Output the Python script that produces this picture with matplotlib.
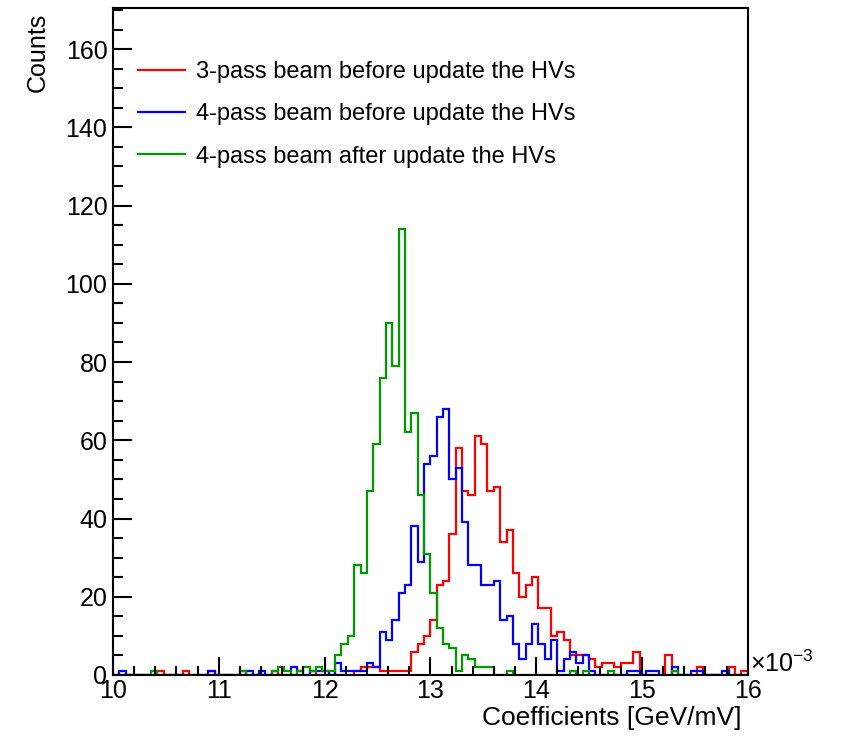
import numpy as np
import matplotlib
matplotlib.use("Agg")
import matplotlib.pyplot as plt
from matplotlib.lines import Line2D
from matplotlib.ticker import MultipleLocator

plt.rcParams["font.family"] = ["Liberation Sans", "DejaVu Sans"]
plt.rcParams["mathtext.fontset"] = "custom"
plt.rcParams["mathtext.rm"] = "Liberation Sans"

# Histogram binning: 100 bins between 0.010 and 0.016 GeV/mV
x_low, x_high, n_bins = 0.010, 0.016, 100

# Bin contents (counts per bin)
counts_3pass_before = [
    0, 0, 0, 0, 0, 0, 0, 1, 0, 0,
    0, 1, 0, 0, 0, 1, 0, 0, 0, 0,
    1, 0, 0, 0, 0, 1, 0, 0, 0, 0,
    0, 1, 0, 0, 0, 0, 0, 0, 1, 2,
    2, 2, 1, 1, 1, 1, 1, 6, 8, 10,
    14, 23, 24, 36, 58, 47, 46, 61, 59, 47,
    48, 34, 37, 26, 20, 23, 25, 17, 17, 10,
    11, 9, 5, 5, 5, 4, 2, 3, 3, 2,
    3, 3, 6, 0, 0, 0, 0, 5, 0, 0,
    0, 0, 2, 0, 0, 0, 0, 2, 0, 1,
]
counts_4pass_before = [
    0, 1, 0, 0, 0, 0, 0, 0, 0, 0,
    0, 0, 0, 0, 0, 1, 0, 0, 0, 0,
    0, 1, 0, 1, 0, 0, 0, 0, 2, 1,
    0, 1, 1, 1, 0, 3, 1, 1, 1, 1,
    3, 2, 11, 9, 14, 21, 23, 38, 29, 54,
    56, 66, 68, 50, 53, 39, 28, 28, 23, 23,
    24, 14, 15, 8, 4, 8, 13, 8, 4, 9,
    1, 4, 6, 3, 5, 1, 0, 0, 0, 0,
    0, 1, 1, 0, 1, 1, 0, 0, 2, 0,
    0, 1, 1, 0, 0, 0, 1, 0, 0, 0,
]
counts_4pass_after = [
    0, 0, 0, 0, 0, 0, 1, 0, 0, 0,
    0, 0, 0, 0, 0, 0, 0, 0, 0, 0,
    1, 0, 0, 0, 0, 1, 2, 1, 0, 1,
    2, 1, 2, 1, 1, 5, 8, 10, 28, 26,
    47, 59, 76, 90, 79, 114, 62, 67, 46, 31,
    21, 12, 8, 7, 1, 5, 4, 2, 2, 2,
    0, 0, 1, 0, 0, 0, 0, 0, 0, 0,
    0, 0, 1, 0, 1, 0, 0, 0, 1, 0,
    0, 0, 0, 0, 0, 0, 0, 0, 1, 0,
    0, 0, 0, 0, 0, 0, 0, 0, 0, 0,
]

series_labels = [
    "3-pass beam before update the HVs",
    "4-pass beam before update the HVs",
    "4-pass beam after update the HVs",
]
series_colors = ["#ff0000", "#0000ff", "#009900"]

edges = np.linspace(x_low, x_high, n_bins + 1) * 1e3  # axis shown in units of 1e-3

W, H = 841, 737
fig = plt.figure(figsize=(W / 100, H / 100), dpi=100)
ax = fig.add_axes([113 / W, 1 - 675 / H, (747.7 - 113) / W, (675 - 8) / H])

for vals, col in zip([counts_3pass_before, counts_4pass_before, counts_4pass_after],
                     series_colors):
    ax.stairs(vals, edges, baseline=0, color=col, linewidth=1.6)

ax.set_xlim(10, 16)
ax.set_ylim(0, 170.5)

for s in ax.spines.values():
    s.set_linewidth(1.5)
    s.set_color("black")

ax.xaxis.set_major_locator(MultipleLocator(1))
ax.xaxis.set_minor_locator(MultipleLocator(0.2))
ax.yaxis.set_major_locator(MultipleLocator(20))
ax.yaxis.set_minor_locator(MultipleLocator(5))
ax.tick_params(axis="both", which="both", direction="in", top=False, right=False,
               width=1.5, labelsize=18)
ax.tick_params(axis="x", which="major", length=13, pad=3)
ax.tick_params(axis="x", which="minor", length=6.5)
ax.tick_params(axis="y", which="major", length=14, pad=4)
ax.tick_params(axis="y", which="minor", length=7)

handles = [Line2D([], [], color=c, linewidth=1.6) for c in series_colors]
ax.legend(handles, series_labels, loc="upper left",
          bbox_to_anchor=(138 / W, 1 - 61 / H), bbox_transform=fig.transFigure,
          frameon=False, fontsize=17, handlelength=2.0, handletextpad=0.47,
          labelspacing=0.86, borderpad=0, borderaxespad=0)

fig.text(750 / W, 1 - 664 / H, r"$\times$10$^{-3}$", ha="left", va="center", fontsize=18)
fig.text(741 / W, 1 - 718 / H, "Coefficients [GeV/mV]", ha="right", va="center",
         fontsize=19)
fig.text(38 / W, 1 - 13 / H, "Counts", ha="center", va="top", rotation=90, fontsize=18)

fig.savefig("out.png", dpi=100, facecolor="white")
